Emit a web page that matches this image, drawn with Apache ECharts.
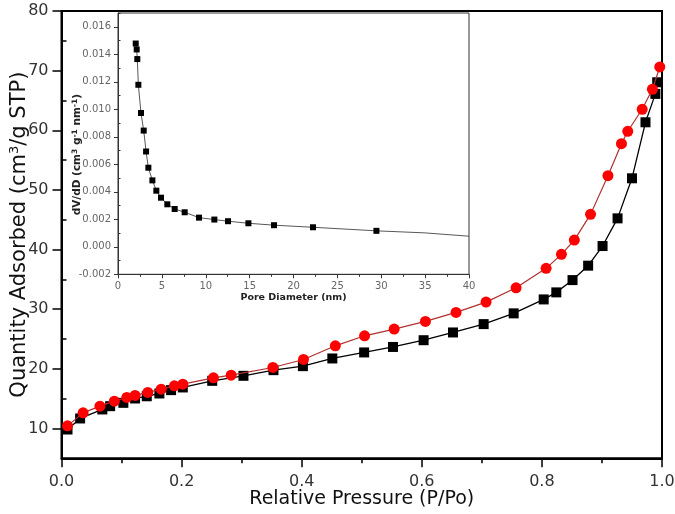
<!DOCTYPE html>
<html>
<head>
<meta charset="utf-8">
<script src="https://cdn.jsdelivr.net/npm/echarts@6/dist/echarts.min.js"></script>
<style>
html,body{margin:0;padding:0;background:#fff;}
#chart{width:675px;height:514px;}
</style>
</head>
<body>
<div id="chart"></div>
<script>
// Main isotherm: black squares
const pressureBlack = [0.010, 0.031, 0.068, 0.081, 0.103, 0.1225, 0.142, 0.163, 0.1825, 0.202, 0.251, 0.303, 0.353, 0.402, 0.451, 0.504, 0.552, 0.603, 0.652, 0.703, 0.753, 0.803, 0.824, 0.851, 0.877, 0.901, 0.926, 0.950, 0.9725, 0.989, 0.992];
const quantityBlack = [9.83, 11.68, 13.19, 13.74, 14.30, 15.03, 15.40, 15.87, 16.43, 16.88, 17.99, 18.83, 19.78, 20.45, 21.74, 22.75, 23.67, 24.80, 26.10, 27.50, 29.30, 31.64, 32.82, 34.88, 37.30, 40.59, 45.23, 51.95, 61.34, 66.10, 68.05];
// Main isotherm: red circles
const pressureRed = [0.010, 0.036, 0.064, 0.088, 0.1087, 0.1225, 0.1437, 0.166, 0.188, 0.202, 0.253, 0.2825, 0.352, 0.403, 0.456, 0.5047, 0.554, 0.606, 0.657, 0.707, 0.757, 0.807, 0.8325, 0.854, 0.881, 0.910, 0.9325, 0.943, 0.967, 0.984, 0.9963];
const quantityRed = [10.44, 12.62, 13.74, 14.58, 15.20, 15.54, 16.04, 16.59, 17.15, 17.43, 18.49, 18.94, 20.23, 21.57, 23.86, 25.54, 26.66, 27.95, 29.46, 31.19, 33.59, 36.85, 39.20, 41.59, 45.90, 52.38, 57.75, 59.83, 63.52, 66.88, 70.62];
// Inset: pore size distribution
const poreDiameter = [2.02, 2.13, 2.20, 2.32, 2.62, 2.93, 3.20, 3.46, 3.92, 4.37, 4.90, 5.62, 6.46, 7.60, 9.23, 10.98, 12.54, 14.86, 17.78, 22.22, 29.45];
const dVdD = [0.01478, 0.01435, 0.01365, 0.01178, 0.00973, 0.00845, 0.00693, 0.00575, 0.00483, 0.00408, 0.00357, 0.00309, 0.00275, 0.00251, 0.00212, 0.00198, 0.00186, 0.00171, 0.00157, 0.00142, 0.00116];
const tailDiameter = [29.45, 35, 40];
const taildVdD = [0.00116, 0.00101, 0.00077];
// Tick values
const mainYTicks = [10, 20, 30, 40, 50, 60, 70, 80];
const mainYMinor = [5, 15, 25, 35, 45, 55, 65, 75];
const insetYTicks = [-0.002, 0, 0.002, 0.004, 0.006, 0.008, 0.010, 0.012, 0.014, 0.016];
const insetYMinor = [-0.001, 0.001, 0.003, 0.005, 0.007, 0.009, 0.011, 0.013, 0.015, 0.017];

const zip = (a, b) => a.map((v, i) => [v, b[i]]);
const FONT = "'DejaVu Sans', sans-serif";

const chart = echarts.init(document.getElementById('chart'), null, {renderer: 'canvas'});
chart.setOption({
  animation: false,
  backgroundColor: '#fff',
  grid: [
    {left: 61.5, top: 11, width: 600.5, height: 447.3, show: true, borderColor: '#000', borderWidth: 2, backgroundColor: 'transparent', containLabel: false, outerBoundsMode: 'none'},
    {left: 118, top: 13, width: 351, height: 261.3, show: true, borderColor: '#333', borderWidth: 1, backgroundColor: '#fff', containLabel: false, outerBoundsMode: 'none'}
  ],
  xAxis: [
    {
      type: 'value', gridIndex: 0, min: 0, max: 1, interval: 0.2,
      name: 'Relative Pressure (P/Po)', nameLocation: 'middle', nameGap: 31, nameMoveOverlap: false,
      nameTextStyle: {fontFamily: FONT, fontSize: 19, color: '#111'},
      axisLine: {show: true, onZero: false, lineStyle: {color: '#000', width: 2}},
      axisTick: {show: true, length: 9, lineStyle: {color: '#000', width: 1.5}},
      minorTick: {show: true, splitNumber: 2, length: 5, lineStyle: {color: '#000', width: 1.5}},
      axisLabel: {fontFamily: FONT, fontSize: 16, color: '#333', margin: 16, formatter: v => v.toFixed(1)},
      splitLine: {show: false}
    },
    {
      type: 'value', gridIndex: 1, min: 0, max: 40, interval: 5,
      name: 'Pore Diameter (nm)', nameLocation: 'middle', nameGap: 18, nameMoveOverlap: false,
      nameTextStyle: {fontFamily: FONT, fontSize: 9.5, fontWeight: 'bold', color: '#222'},
      axisLine: {show: true, onZero: false, lineStyle: {color: '#333', width: 1}},
      axisTick: {show: true, length: 4, lineStyle: {color: '#333', width: 1}},
      minorTick: {show: true, splitNumber: 2, length: 2.5, lineStyle: {color: '#333', width: 1}},
      axisLabel: {fontFamily: FONT, fontSize: 10, color: '#666', margin: 7},
      splitLine: {show: false}
    }
  ],
  yAxis: [
    {
      type: 'value', gridIndex: 0, min: 5, max: 80,
      name: 'Quantity Adsorbed (cm{sup|3}/g STP)', nameLocation: 'middle', nameGap: 31, nameRotate: 90, nameMoveOverlap: false,
      nameTextStyle: {fontFamily: FONT, fontSize: 21, color: '#111',
        rich: {sup: {fontFamily: FONT, fontSize: 13, color: '#111', verticalAlign: 'top', padding: [0, 0, 9, 0]}}},
      axisLine: {show: true, onZero: false, lineStyle: {color: '#000', width: 2}},
      axisTick: {show: true, length: 9, customValues: mainYTicks, lineStyle: {color: '#000', width: 1.5}},
      axisLabel: {fontFamily: FONT, fontSize: 16, color: '#333', margin: 13, customValues: mainYTicks},
      splitLine: {show: false}
    },
    {
      type: 'value', gridIndex: 0, min: 5, max: 80,
      axisLine: {show: false},
      axisTick: {show: true, length: 5, customValues: mainYMinor, lineStyle: {color: '#000', width: 1.5}},
      axisLabel: {show: false},
      splitLine: {show: false}
    },
    {
      type: 'value', gridIndex: 1, min: -0.002, max: 0.017,
      name: 'dV/dD (cm{s|3} g{s|-1} nm{s|-1})', nameLocation: 'middle', nameGap: 34, nameRotate: 90, nameMoveOverlap: false,
      nameTextStyle: {fontFamily: FONT, fontSize: 10.5, fontWeight: 'bold', color: '#222', padding: [0, 22, 0, 0],
        rich: {s: {fontFamily: FONT, fontSize: 7.5, fontWeight: 'bold', color: '#222', verticalAlign: 'top', padding: [0, 0, 5, 0]}}},
      axisLine: {show: true, onZero: false, lineStyle: {color: '#333', width: 1}},
      axisTick: {show: true, length: 4, customValues: insetYTicks, lineStyle: {color: '#333', width: 1}},
      axisLabel: {fontFamily: FONT, fontSize: 10, color: '#666', margin: 7, customValues: insetYTicks, formatter: v => v.toFixed(3)},
      splitLine: {show: false}
    },
    {
      type: 'value', gridIndex: 1, min: -0.002, max: 0.017,
      axisLine: {show: false},
      axisTick: {show: true, length: 2.5, customValues: insetYMinor, lineStyle: {color: '#333', width: 1}},
      axisLabel: {show: false},
      splitLine: {show: false}
    }
  ],
  series: [
    {
      type: 'line', xAxisIndex: 0, yAxisIndex: 0, data: zip(pressureBlack, quantityBlack),
      symbol: 'rect', symbolSize: 10, itemStyle: {color: '#000'},
      lineStyle: {color: '#000', width: 1.3}, z: 3
    },
    {
      type: 'line', xAxisIndex: 0, yAxisIndex: 0, data: zip(pressureRed, quantityRed),
      symbol: 'circle', symbolSize: 11, itemStyle: {color: '#ff0000'},
      lineStyle: {color: '#b03030', width: 1.2}, z: 4
    },
    {
      type: 'line', xAxisIndex: 1, yAxisIndex: 2, data: zip(tailDiameter, taildVdD),
      symbol: 'none', lineStyle: {color: '#444', width: 0.9}, z: 3
    },
    {
      type: 'line', xAxisIndex: 1, yAxisIndex: 2, data: zip(poreDiameter, dVdD),
      symbol: 'rect', symbolSize: 6, itemStyle: {color: '#000'},
      lineStyle: {color: '#444', width: 0.9}, z: 4
    }
  ]
});
</script>
</body>
</html>
